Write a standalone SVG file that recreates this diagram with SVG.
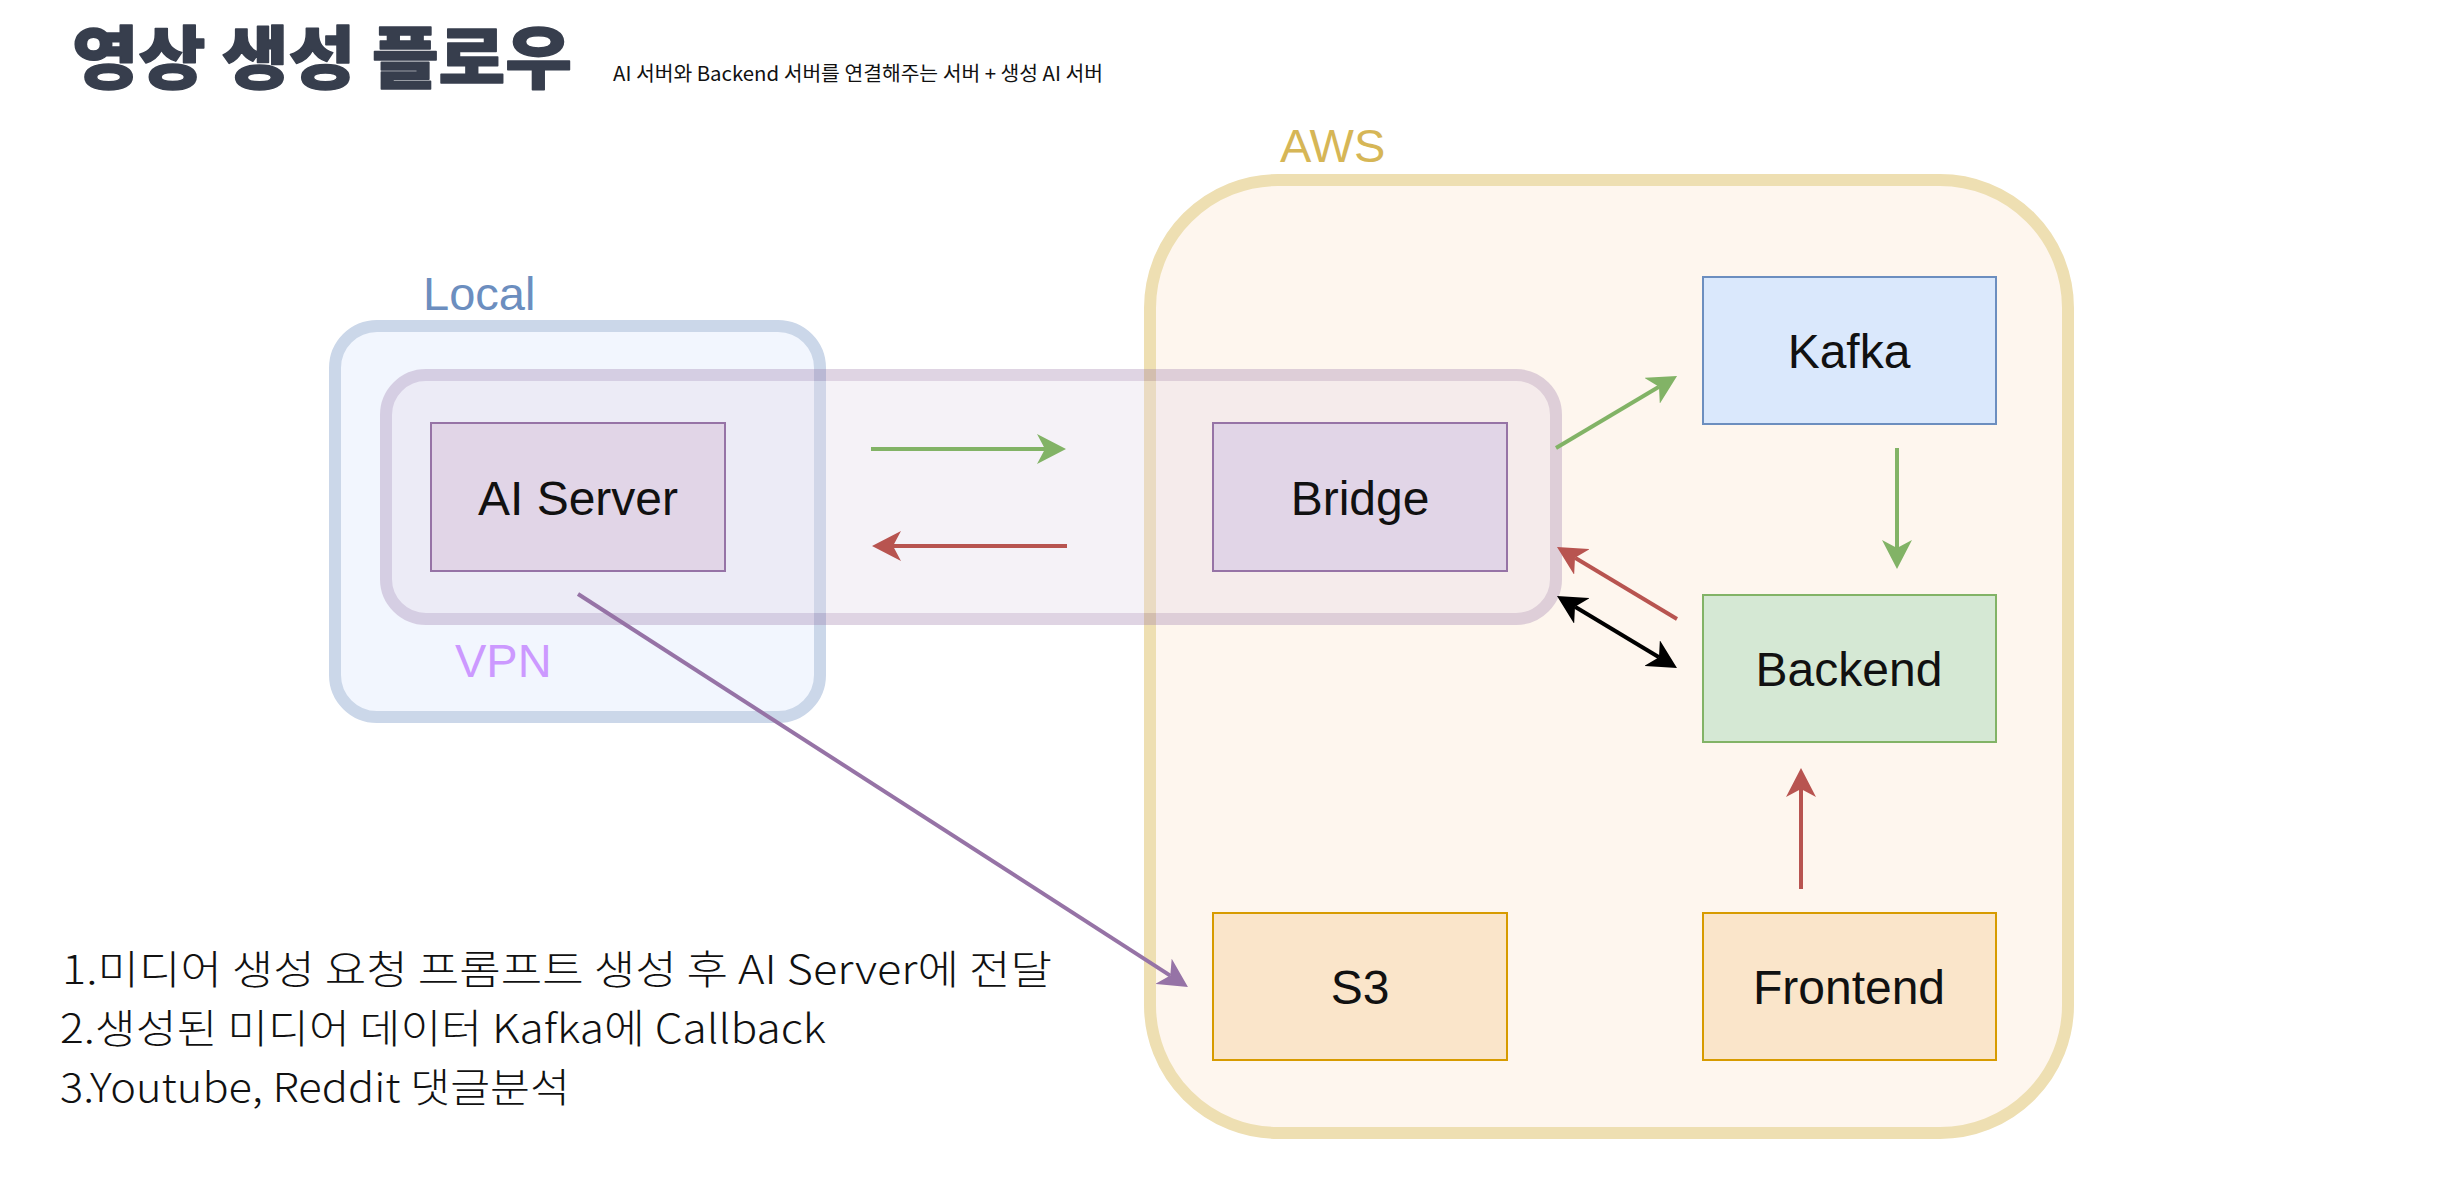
<svg xmlns="http://www.w3.org/2000/svg" width="2438" height="1180" viewBox="0 0 2438 1180">
<style>
.node rect{stroke-width:2}
.lbl{font-family:"Liberation Sans",Arial,sans-serif;font-size:48px;fill:#111;text-anchor:middle}
.grp{font-family:"Liberation Sans",Arial,sans-serif;font-size:47px}
.kr{font-family:"Noto Sans CJK KR","Noto Sans",sans-serif}
.edge{fill:none;stroke-width:4}
</style>
<defs>
<marker id="ag" viewBox="0 0 29 30" refX="8" refY="15" markerWidth="29" markerHeight="30" markerUnits="userSpaceOnUse" orient="auto-start-reverse"><path d="M0,0 L29,15 L0,30 L8,15 Z" fill="#82b366"/></marker>
<marker id="ar" viewBox="0 0 29 30" refX="8" refY="15" markerWidth="29" markerHeight="30" markerUnits="userSpaceOnUse" orient="auto-start-reverse"><path d="M0,0 L29,15 L0,30 L8,15 Z" fill="#b85450"/></marker>
<marker id="ak" viewBox="0 0 29 30" refX="8" refY="15" markerWidth="29" markerHeight="30" markerUnits="userSpaceOnUse" orient="auto-start-reverse"><path d="M0,0 L29,15 L0,30 L8,15 Z" fill="#000"/></marker>
<marker id="ap" viewBox="0 0 29 30" refX="8" refY="15" markerWidth="29" markerHeight="30" markerUnits="userSpaceOnUse" orient="auto-start-reverse"><path d="M0,0 L29,15 L0,30 L8,15 Z" fill="#9673a6"/></marker>
</defs>
<rect width="2438" height="1180" fill="#fff"/>

<g id="title">
<text x="72" y="83" class="kr" font-size="68" font-weight="900" fill="#373e4d" stroke="#373e4d" stroke-width="1.5" stroke-linejoin="round" textLength="500" lengthAdjust="spacingAndGlyphs">영상 생성 플로우</text>
<text x="613" y="81" class="kr" font-size="20" fill="#111" textLength="490" lengthAdjust="spacingAndGlyphs">AI 서버와 Backend 서버를 연결해주는 서버 + 생성 AI 서버</text>
</g>

<g id="local">
<rect x="335" y="326" width="485" height="391" rx="42" fill="#f2f6fe" stroke="#cbd7e9" stroke-width="12"/>
<text x="423" y="310" class="grp" fill="#6c8ebf">Local</text>
</g>

<g id="aws">
<rect x="1150" y="180" width="918" height="953" rx="128" fill="#fef6ee" stroke="#eedfb2" stroke-width="12"/>
<text x="1280" y="162" class="grp" fill="#d6b656">AWS</text>
</g>

<g id="vpn">
<rect x="386" y="375" width="1170" height="244" rx="40" fill="#e1d5e7" stroke="#9673a6" stroke-width="12" opacity="0.3"/>
<text x="455" y="677" class="grp" fill="#cc99ff">VPN</text>
</g>

<g id="ai-server" class="node">
<rect x="431" y="423" width="294" height="148" fill="#e1d5e7" stroke="#9673a6"/>
<text x="578" y="515" class="lbl">AI Server</text>
</g>
<g id="bridge" class="node">
<rect x="1213" y="423" width="294" height="148" fill="#e1d5e7" stroke="#9673a6"/>
<text x="1360" y="515" class="lbl">Bridge</text>
</g>
<g id="kafka" class="node">
<rect x="1703" y="277" width="293" height="147" fill="#dae8fc" stroke="#6c8ebf"/>
<text x="1849" y="368" class="lbl">Kafka</text>
</g>
<g id="backend" class="node">
<rect x="1703" y="595" width="293" height="147" fill="#d5e8d4" stroke="#82b366"/>
<text x="1849" y="686" class="lbl">Backend</text>
</g>
<g id="s3" class="node">
<rect x="1213" y="913" width="294" height="147" fill="#fae5ca" stroke="#d79b00"/>
<text x="1360" y="1004" class="lbl">S3</text>
</g>
<g id="frontend" class="node">
<rect x="1703" y="913" width="293" height="147" fill="#fae5ca" stroke="#d79b00"/>
<text x="1849" y="1004" class="lbl">Frontend</text>
</g>

<g id="connectors">
<line class="edge" x1="871" y1="449" x2="1045" y2="449" stroke="#82b366" marker-end="url(#ag)"/>
<line class="edge" x1="1067" y1="546" x2="893" y2="546" stroke="#b85450" marker-end="url(#ar)"/>
<line class="edge" x1="1556" y1="448" x2="1659" y2="386.7" stroke="#82b366" marker-end="url(#ag)"/>
<line class="edge" x1="1897" y1="448" x2="1897" y2="548" stroke="#82b366" marker-end="url(#ag)"/>
<line class="edge" x1="1677" y1="619" x2="1575" y2="557.8" stroke="#b85450" marker-end="url(#ar)"/>
<line class="edge" x1="1575" y1="606.8" x2="1659" y2="657.2" stroke="#000" marker-start="url(#ak)" marker-end="url(#ak)"/>
<line class="edge" x1="1801" y1="889" x2="1801" y2="789" stroke="#b85450" marker-end="url(#ar)"/>
<line class="edge" x1="578" y1="594" x2="1170.3" y2="975.6" stroke="#9673a6" stroke-width="3" marker-end="url(#ap)"/>
</g>

<g id="notes" class="kr" font-size="40" font-weight="300" fill="#111">
<text x="62" y="984" textLength="990" lengthAdjust="spacingAndGlyphs">1.미디어 생성 요청 프롬프트 생성 후 AI Server에 전달</text>
<text x="60" y="1043" textLength="766" lengthAdjust="spacingAndGlyphs">2.생성된 미디어 데이터 Kafka에 Callback</text>
<text x="60" y="1102" textLength="510" lengthAdjust="spacingAndGlyphs">3.Youtube, Reddit 댓글분석</text>
</g>
</svg>
